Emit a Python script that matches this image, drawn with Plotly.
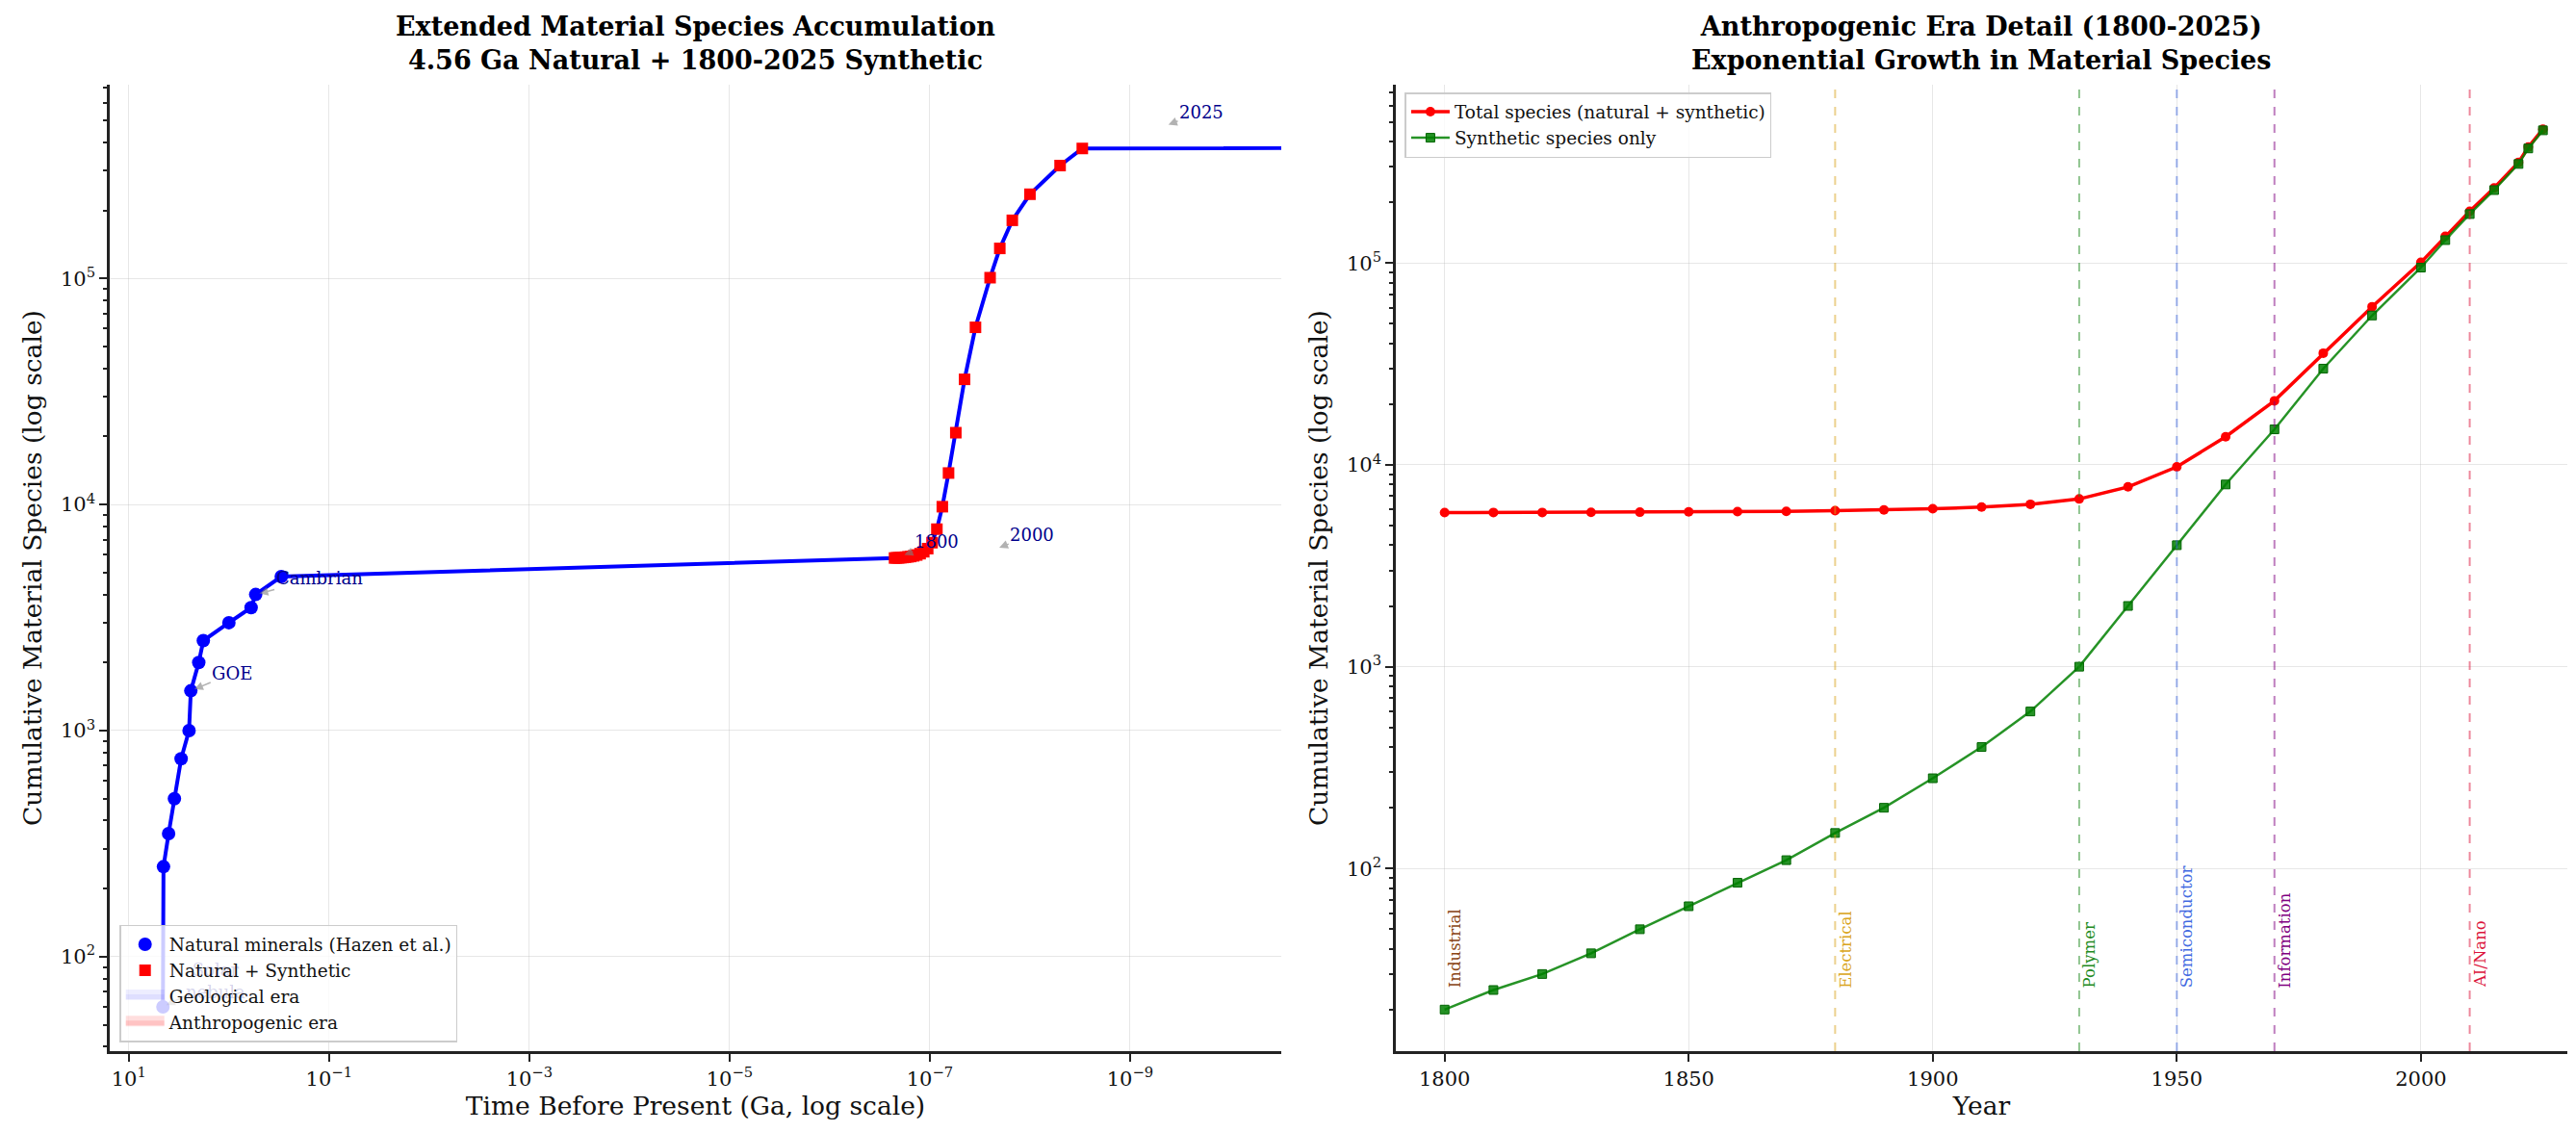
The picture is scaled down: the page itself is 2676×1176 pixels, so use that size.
import math

import numpy as np
import plotly.graph_objects as go
from plotly.subplots import make_subplots

# Natural mineral species (Hazen et al.) - age in Ga before present
natural_age_ga = [4.56, 4.50, 4.00, 3.50, 3.00, 2.50, 2.40, 2.00, 1.80, 1.00, 0.60, 0.54, 0.30]
natural_species = [60, 250, 350, 500, 750, 1000, 1500, 2000, 2500, 3000, 3500, 4000, 4800]

# Anthropogenic era 1800-2025
years = [1800, 1810, 1820, 1830, 1840, 1850, 1860, 1870, 1880, 1890, 1900,
         1910, 1920, 1930, 1940, 1950, 1960, 1970, 1980, 1990, 2000,
         2005, 2010, 2015, 2020, 2022, 2025]
synthetic_species = [20, 25, 30, 38, 50, 65, 85, 110, 150, 200, 280,
                     400, 600, 1000, 2000, 4000, 8000, 15000, 30000, 55000, 95000,
                     130000, 175000, 230000, 310000, 370000, 455000]
total_species = [5800, 5810, 5810, 5820, 5830, 5850, 5870, 5890, 5930, 5980, 6060,
                 6180, 6380, 6780, 7780, 9780, 13780, 20780, 35780, 60780, 100780,
                 135780, 180780, 235780, 315780, 375780, 460780]

# Technology eras (right panel)
era_names = ["Industrial", "Electrical", "Polymer", "Semiconductor", "Information", "AI/Nano"]
era_years = [1800, 1880, 1930, 1950, 1970, 2010]
era_colors = ["#8B4513", "#DAA520", "#228B22", "#4169E1", "#800080", "#DC143C"]

# Annotations on the left panel (label, Ga, species)
note_labels = ["Solar<br>nebula", "GOE", "Cambrian", "1800", "2000", "2025"]
note_ga = [4.56, 2.40, 0.54, 1.95e-7, 2.2e-8, 4.5e-10]
note_species = [60, 1500, 4000, 5900, 6350, 473000]

FONT = "DejaVu Serif"

# years before present in Ga; 2025 -> 0 gets clipped to a tiny value (as a log axis does)
ga_before = np.maximum((2025 - np.array(years)) / 1e9, 1e-100)

fig = make_subplots(rows=1, cols=2, horizontal_spacing=0.0466)

# --- left panel ---
fig.add_vrect(x0=4.56, x1=1e-6, fillcolor="rgba(0,0,255,0.035)",
              line=dict(color="rgba(0,0,255,0.06)", width=1), layer="below", row=1, col=1)
fig.add_vrect(x0=2.25e-7, x1=1e-10, fillcolor="rgba(255,0,0,0.09)",
              line=dict(color="rgba(255,0,0,0.12)", width=1), layer="below", row=1, col=1)

all_ga = list(natural_age_ga) + list(ga_before)
all_species = list(natural_species) + list(total_species)
fig.add_trace(go.Scatter(x=all_ga, y=all_species, mode="lines",
                         line=dict(color="#0000ff", width=4), showlegend=False,
                         hoverinfo="skip"), row=1, col=1)
fig.add_trace(go.Scatter(x=natural_age_ga, y=natural_species, mode="markers",
                         marker=dict(color="#0000ff", size=14, symbol="circle"),
                         name="Natural minerals (Hazen et al.)"), row=1, col=1)
fig.add_trace(go.Scatter(x=ga_before, y=total_species, mode="markers",
                         marker=dict(color="#ff0000", size=12, symbol="square"),
                         name="Natural + Synthetic"), row=1, col=1)
fig.add_trace(go.Scatter(x=[None], y=[None], mode="lines", fill="toself",
                         fillcolor="rgba(0,0,255,0.06)", line=dict(color="rgba(0,0,255,0.07)", width=12),
                         name="Geological era"), row=1, col=1)
fig.add_trace(go.Scatter(x=[None], y=[None], mode="lines", fill="toself",
                         fillcolor="rgba(255,0,0,0.12)", line=dict(color="rgba(255,0,0,0.13)", width=12),
                         name="Anthropogenic era"), row=1, col=1)

offsets = [(55, -27), (43, -18), (66, -17), (37, -15), (38, -15), (38, -14)]
for lab, gx, sy, (ox, oy) in zip(note_labels, note_ga, note_species, offsets):
    faint = lab.startswith("Solar")  # sits underneath the legend in the original
    fig.add_annotation(x=math.log10(gx), y=math.log10(sy), xref="x", yref="y",
                       text=lab, showarrow=True, ax=ox, ay=oy,
                       arrowhead=2, arrowsize=1.2, arrowwidth=1.5,
                       arrowcolor="rgba(128,128,128,0.15)" if faint else "rgba(128,128,128,0.6)",
                       standoff=4,
                       font=dict(family=FONT, size=18,
                                 color="rgba(0,0,139,0.18)" if faint else "#00008B"))

# --- right panel ---
for name, yr, col in zip(era_names, era_years, era_colors):
    fig.add_vline(x=yr, line=dict(color=col, width=2, dash="dash"), opacity=0.5, row=1, col=2)
    fig.add_annotation(x=yr, y=math.log10(25), xref="x2", yref="y2", text=name,
                       showarrow=False, textangle=-90, xanchor="center", yanchor="bottom",
                       xshift=11, font=dict(family=FONT, size=16.5, color=col))

fig.add_trace(go.Scatter(x=years, y=total_species, mode="lines+markers",
                         line=dict(color="#ff0000", width=3.5),
                         marker=dict(color="#ff0000", size=10, symbol="circle"),
                         name="Total species (natural + synthetic)", legend="legend2"), row=1, col=2)
fig.add_trace(go.Scatter(x=years, y=synthetic_species, mode="lines+markers",
                         line=dict(color="rgba(0,128,0,0.85)", width=2.5),
                         marker=dict(color="rgba(0,128,0,0.85)", size=9, symbol="square",
                                     line=dict(color="#006400", width=1)),
                         name="Synthetic species only", legend="legend2"), row=1, col=2)

# --- axes ---
minor_y = [m * 10 ** e for e in range(1, 6) for m in range(2, 10)]
axis_common = dict(showline=True, linecolor="#222", linewidth=2.5, mirror=False,
                   ticks="outside", ticklen=8, tickwidth=2, tickcolor="#222",
                   showgrid=True, gridcolor="rgba(176,176,176,0.3)", gridwidth=1.3,
                   zeroline=False, tickfont=dict(family=FONT, size=21, color="#111"),
                   title_font=dict(family=FONT, size=26.5, color="#111"))
yminor = dict(tickmode="array", tickvals=minor_y, ticks="outside", ticklen=4,
              tickwidth=1.5, tickcolor="#222", showgrid=False)

lx_ticks = [10, 1e-1, 1e-3, 1e-5, 1e-7, 1e-9]
fig.update_xaxes(type="log", range=[1.19, -10.51], tickmode="array", tickvals=lx_ticks,
                 ticktext=["10<sup>1</sup>", "10<sup>−1</sup>", "10<sup>−3</sup>", "10<sup>−5</sup>",
                           "10<sup>−7</sup>", "10<sup>−9</sup>"],
                 title=dict(text="Time Before Present (Ga, log scale)", standoff=8),
                 row=1, col=1, **axis_common)
fig.update_yaxes(type="log", range=[1.582, 5.857], tickmode="array",
                 tickvals=[1e2, 1e3, 1e4, 1e5],
                 ticktext=["10<sup>2</sup>", "10<sup>3</sup>", "10<sup>4</sup>", "10<sup>5</sup>"],
                 minor=yminor, title=dict(text="Cumulative Material Species (log scale)", standoff=12),
                 row=1, col=1, **axis_common)
fig.update_xaxes(range=[1790, 2030], tickmode="array", tickvals=[1800, 1850, 1900, 1950, 2000],
                 title=dict(text="Year", standoff=8), row=1, col=2, **axis_common)
fig.update_yaxes(type="log", range=[1.095, 5.884], tickmode="array",
                 tickvals=[1e2, 1e3, 1e4, 1e5],
                 ticktext=["10<sup>2</sup>", "10<sup>3</sup>", "10<sup>4</sup>", "10<sup>5</sup>"],
                 minor=yminor, title=dict(text="Cumulative Material Species (log scale)", standoff=12),
                 row=1, col=2, **axis_common)

# titles
titles = ["<b>Extended Material Species Accumulation</b><br><b>4.56 Ga Natural + 1800-2025 Synthetic</b>",
          "<b>Anthropogenic Era Detail (1800-2025)</b><br><b>Exponential Growth in Material Species</b>"]
for t, xd in zip(titles, ["x domain", "x2 domain"]):
    fig.add_annotation(text=t, x=0.5, y=1, xref=xd, yref="paper", xanchor="center",
                       yanchor="bottom", yshift=8, showarrow=False,
                       font=dict(family=FONT, size=27, color="#000"))

fig.update_layout(
    width=2676, height=1176,
    margin=dict(l=106, r=17, t=80, b=92),
    paper_bgcolor="white", plot_bgcolor="white",
    font=dict(family=FONT, size=18, color="#111"),
    legend=dict(x=0.004, y=0.009, xanchor="left", yanchor="bottom",
                bgcolor="rgba(255,255,255,0.8)", bordercolor="#cccccc", borderwidth=1.5,
                font=dict(family=FONT, size=18.5), itemwidth=40),
    legend2=dict(x=0.527, y=0.992, xanchor="left", yanchor="top",
                 bgcolor="rgba(255,255,255,0.8)", bordercolor="#cccccc", borderwidth=1.5,
                 font=dict(family=FONT, size=18.5), itemwidth=40),
)

fig.write_html("out.html")
